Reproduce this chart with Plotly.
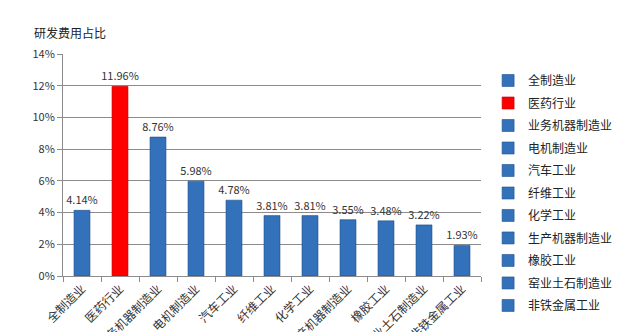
import plotly.graph_objects as go

categories = ["全制造业", "医药行业", "业务机器制造业", "电机制造业", "汽车工业", "纤维工业",
              "化学工业", "生产机器制造业", "橡胶工业", "窑业土石制造业", "非铁金属工业"]
values = [4.14, 11.96, 8.76, 5.98, 4.78, 3.81, 3.81, 3.55, 3.48, 3.22, 1.93]
colors = ["#3371BA", "#FF0000"] + ["#3371BA"] * 9
y_ticks = [0, 2, 4, 6, 8, 10, 12, 14]

FONT = "Noto Sans CJK SC"

fig = go.Figure()
for i, (c, v) in enumerate(zip(categories, values)):
    fig.add_trace(go.Bar(
        x=[c], y=[v], name=c, legendgroup=c,
        legend="legend" if i < 6 else "legend2",
        marker=dict(color=colors[i], line=dict(color="#1F4F8A" if i != 1 else "#C00000", width=0.6)),
        width=0.42,
        text=[f"{v:.2f}%"], textposition="outside", cliponaxis=False,
        constraintext="none",
        textfont=dict(size=11, color="#333333", family=FONT),
    ))

legend_common = dict(x=1.017, xanchor="left", yanchor="top",
                     font=dict(size=12, color="#222222", family=FONT),
                     tracegroupgap=3.5, itemwidth=30, bgcolor="rgba(0,0,0,0)")

fig.update_layout(
    width=640, height=332,
    margin=dict(l=63, r=159, t=54, b=56),
    paper_bgcolor="white", plot_bgcolor="white",
    barmode="relative",
    font=dict(family=FONT, size=11, color="#333333"),
    annotations=[dict(text="研发费用占比", xref="paper", yref="paper", x=-0.075, y=1.05,
                      xanchor="left", yanchor="bottom", showarrow=False,
                      font=dict(size=12, color="#222222", family=FONT))],
    legend=dict(y=0.946, **legend_common),
    legend2=dict(y=0.338, **legend_common),
    showlegend=True,
)
fig.update_xaxes(
    categoryorder="array", categoryarray=categories,
    tickangle=-45, tickfont=dict(size=12, color="#333333", family=FONT),
    showline=True, linecolor="#8C8C8C", linewidth=1,
    ticks="outside", tickson="boundaries", ticklen=5, tickcolor="#8C8C8C",
    automargin=False, showgrid=False,
)
fig.update_yaxes(
    range=[0, 14], tickvals=y_ticks, ticktext=[f"{t}%" for t in y_ticks],
    showgrid=True, gridcolor="#8C8C8C", gridwidth=1,
    showline=True, linecolor="#8C8C8C", linewidth=1,
    ticks="outside", ticklen=5, tickcolor="#8C8C8C",
    tickfont=dict(size=11, color="#333333", family=FONT),
    automargin=False, zeroline=False,
)

fig.write_html("out.html")
